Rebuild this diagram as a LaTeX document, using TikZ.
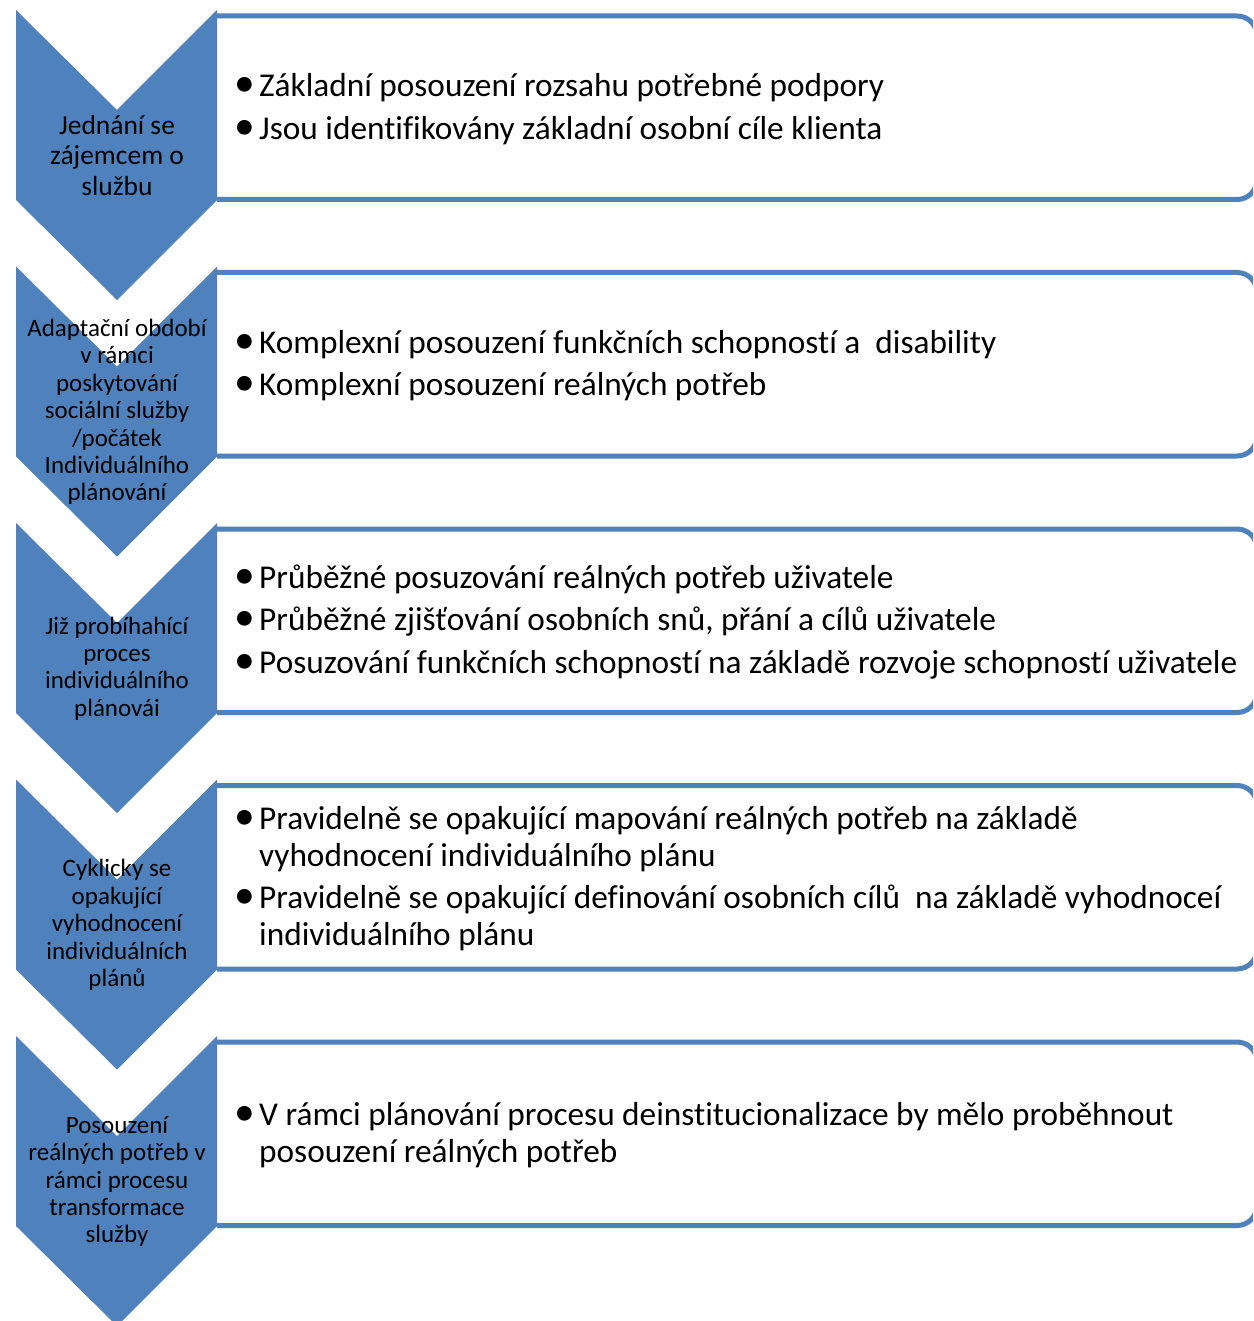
\documentclass[tikz,border=0pt]{standalone}
\usepackage{fontspec}
\setmainfont{Carlito}[Ligatures=NoCommon]
\usepackage{array}
\definecolor{accblue}{HTML}{4F81BD}
\tikzset{
  chev/.style={fill=accblue, draw=none},
  chevtxt/.style={align=center, text=black, inner sep=0pt},
  chevtxtbig/.style={chevtxt, font=\fontsize{27.5}{30.5}\selectfont},
  chevtxtsmall/.style={chevtxt, font=\fontsize{25}{27.4}\selectfont},
  bultxt/.style={anchor=west, align=left, inner sep=0pt, text=black, font=\fontsize{33.3}{36.6}\selectfont},
}
\newcommand{\bul}{\hspace*{-2pt}\raisebox{0.0em}{\scalebox{1.25}{•}}}
\newcommand{\stage}[2]{%
  \fill[white] (217,#2+6) -- (1257,#2+6) -- (1257,#2+189.5) -- (217,#2+189.5) -- cycle;
  \draw[draw=accblue, line width=5pt] (217,#2+6) -- (1237,#2+6) arc[start angle=-90, end angle=0, radius=20] -- (1257,#2+169.5) arc[start angle=0, end angle=90, radius=20] -- (217,#2+189.5);
  \fill[chev] (16,#2) -- (117,#2+100) -- (217,#2) -- (217,#2+190) -- (117,#2+290) -- (16,#2+190) -- cycle;
  \coordinate (c#1) at (117,#2+145.5);
  \coordinate (b#1) at (236,#2+100.5);
}
\begin{document}
\begin{tikzpicture}[x=1pt,y=-1pt]
\useasboundingbox (0,0) rectangle (1253,1321);
\clip (0,0) rectangle (1253,1321);
\fill[white] (0,0) rectangle (1253,1321);
\stage{1}{10}
\stage{2}{266.5}
\stage{3}{523}
\stage{4}{779.5}
\stage{5}{1036}
\node[chevtxtbig] (t1) at (c1) {Jednání se\\zájemcem o\\službu};
\node[chevtxtsmall] (t2) at (c2) {Adaptační období\\v rámci\\poskytování\\sociální služby\\/počátek\\Individuálního\\plánování};
\node[chevtxtsmall] (t3) at (c3) {Již probíhahící\\proces\\individuálního\\plánovái};
\node[chevtxtsmall] (t4) at (c4) {Cyklicky se\\opakující\\vyhodnocení\\individuálních\\plánů};
\node[chevtxtsmall] (t5) at (c5) {Posouzení\\reálných potřeb v\\rámci procesu\\transformace\\služby};
\node[bultxt] (l1) at (b1) {\begin{tabular}{@{}p{23pt}@{}l@{}}\bul & Základní posouzení rozsahu potřebné podpory\\[6pt]
\bul & Jsou identifikovány základní osobní cíle klienta\end{tabular}};
\node[bultxt] (l2) at (b2) {\begin{tabular}{@{}p{23pt}@{}l@{}}\bul & Komplexní posouzení funkčních schopností a~~disability\\[6pt]
\bul & Komplexní posouzení reálných potřeb\end{tabular}};
\node[bultxt] (l3) at (b3) {\begin{tabular}{@{}p{23pt}@{}l@{}}\bul & Průběžné posuzování reálných potřeb uživatele\\[6pt]
\bul & Průběžné zjišťování osobních snů, přání a cílů uživatele\\[6pt]
\bul & Posuzování funkčních schopností na základě rozvoje schopností uživatele\end{tabular}};
\node[bultxt] (l4) at (b4) {\begin{tabular}{@{}p{23pt}@{}l@{}}\bul & Pravidelně se opakující mapování reálných potřeb na základě\\
 & vyhodnocení individuálního plánu\\[6pt]
\bul & Pravidelně se opakující definování osobních cílů~~na základě vyhodnoceí\\
 & individuálního plánu\end{tabular}};
\node[bultxt] (l5) at (b5) {\begin{tabular}{@{}p{23pt}@{}l@{}}\bul & V rámci plánování procesu deinstitucionalizace by mělo proběhnout\\
 & posouzení reálných potřeb\end{tabular}};
\end{tikzpicture}
\end{document}
